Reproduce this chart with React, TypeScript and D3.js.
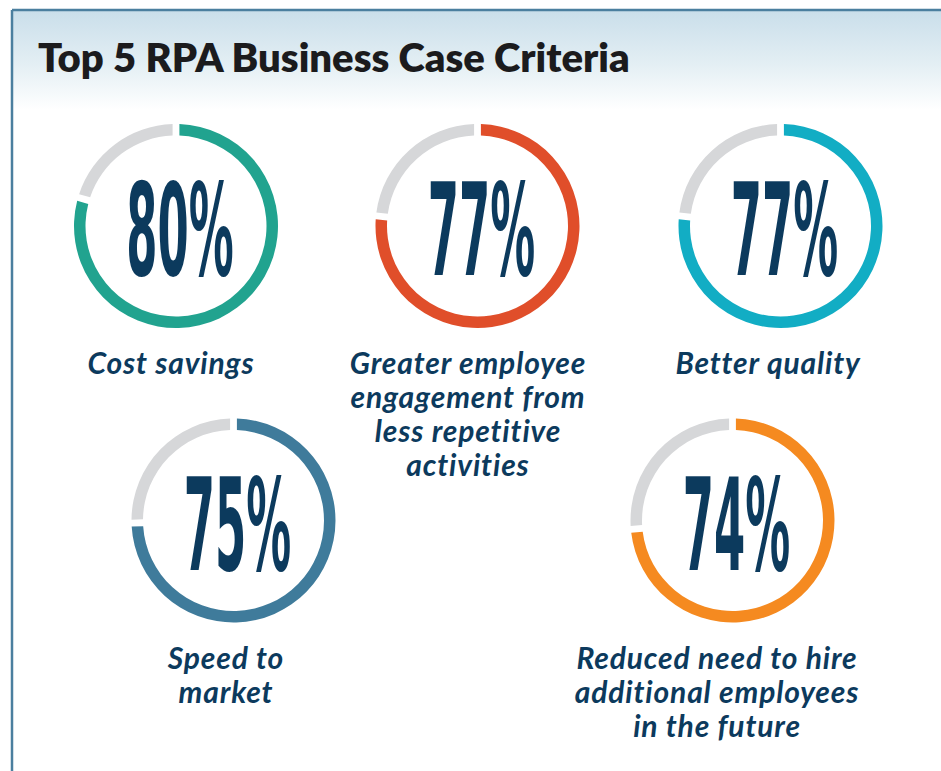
import React from "react";
import * as d3 from "d3";

const title = "Top 5 RPA Business Case Criteria";
const categories = [
  "Cost savings",
  "Greater employee engagement from less repetitive activities",
  "Better quality",
  "Speed to market",
  "Reduced need to hire additional employees in the future",
];
const labelLines = [
  ["Cost savings"],
  ["Greater employee", "engagement from", "less repetitive", "activities"],
  ["Better quality"],
  ["Speed to", "market"],
  ["Reduced need to hire", "additional employees", "in the future"],
];
const values = [80, 77, 77, 75, 74];
const colors = ["#21a38f", "#e04e2a", "#12adc4", "#3f7b9b", "#f58a20"];

// layout (positions of each gauge)
const layout = [
  { cx: 176, cy: 226, lx: 171, ly: 374 },
  { cx: 477.5, cy: 226, lx: 468, ly: 373.5 },
  { cx: 780.5, cy: 226, lx: 768, ly: 374 },
  { cx: 233.5, cy: 520.5, lx: 226, ly: 669 },
  { cx: 732.5, cy: 520.5, lx: 717, ly: 669 },
];

const W = 941;
const H = 771;
const OUTER = 102;
const INNER = 90.5;
const GRAY = "#d6d7d9";
const NAVY = "#0c3a5d";

export default function App() {
  const pie = d3
    .pie<number>()
    .sort(null)
    .value((d) => d)
    .padAngle(0.05);
  const arc = d3
    .arc<d3.PieArcDatum<number>>()
    .innerRadius(INNER)
    .outerRadius(OUTER);

  return (
    <svg
      width={W}
      height={H}
      style={{ position: "absolute", left: 0, top: 0, background: "#fff" }}
    >
      <defs>
        <linearGradient id="hdr" x1="0" y1="0" x2="0" y2="1">
          <stop offset="0" stopColor="#c9deea" />
          <stop offset="0.55" stopColor="#e4eff4" />
          <stop offset="1" stopColor="#ffffff" />
        </linearGradient>
      </defs>
      <rect x={0} y={0} width={W} height={H} fill="#fff" />
      <rect x={12} y={10} width={W - 12} height={100} fill="url(#hdr)" />
      <line x1={12} y1={10} x2={W} y2={10} stroke="#4b7f9f" strokeWidth={2.5} />
      <line x1={12} y1={10} x2={12} y2={H} stroke="#4b7f9f" strokeWidth={2.5} />
      <text
        x={38}
        y={72}
        fontFamily="Lato, 'Open Sans', sans-serif"
        fontWeight={800}
        fontSize={40}
        fill="#1b1b1d"
      >
        {title}
      </text>
      {values.map((v, i) => {
        const L = layout[i];
        const arcs = pie([v, 100 - v]);
        return (
          <g key={categories[i]}>
            <g transform={`translate(${L.cx},${L.cy})`}>
              {arcs.map((a, j) => (
                <path
                  key={j}
                  d={arc(a) || ""}
                  fill={j === 0 ? colors[i] : GRAY}
                />
              ))}
              <g transform="translate(4,49) scale(0.39,1)">
                <text
                  x={0}
                  y={0}
                  textAnchor="middle"
                  fontFamily="'DejaVu Sans Condensed', 'DejaVu Sans', sans-serif"
                  fontWeight={700}
                  fontSize={128}
                  fill={NAVY}
                >
                  {`${v}%`}
                </text>
              </g>
            </g>
            <text
              x={L.lx}
              y={L.ly}
              textAnchor="middle"
              fontFamily="Lato, 'Open Sans', sans-serif"
              fontWeight={700}
              fontStyle="italic"
              fontSize={30}
              letterSpacing={0.85}
              fill={NAVY}
            >
              {labelLines[i].map((ln, k) => (
                <tspan key={k} x={L.lx} dy={k === 0 ? 0 : 34.2}>
                  {ln}
                </tspan>
              ))}
            </text>
          </g>
        );
      })}
    </svg>
  );
}
